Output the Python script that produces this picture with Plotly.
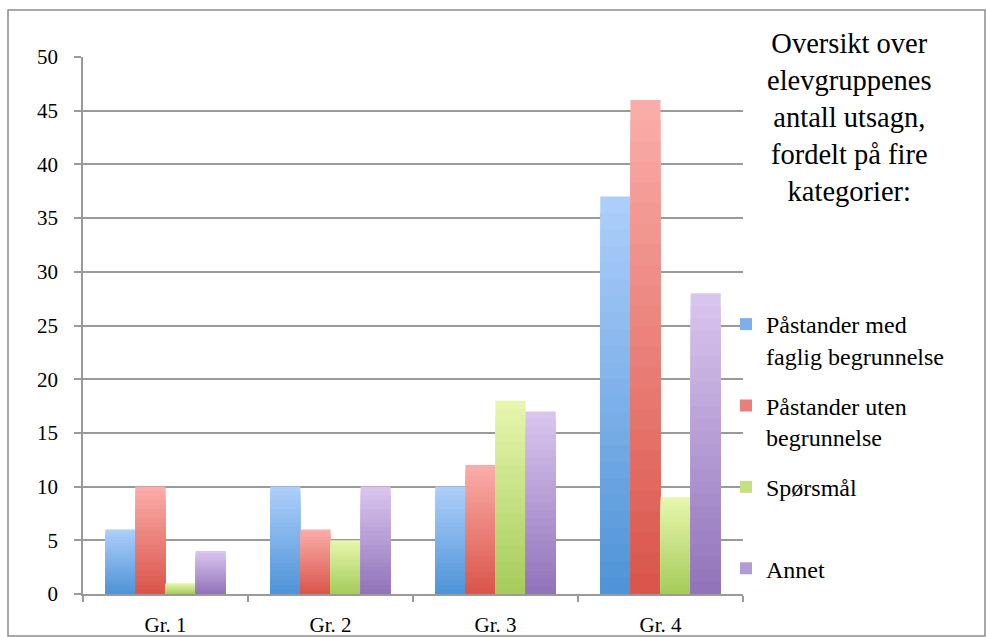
import plotly.graph_objects as go

categories = ["Gr. 1", "Gr. 2", "Gr. 3", "Gr. 4"]
series_names = ["Påstander med<br>faglig begrunnelse", "Påstander uten<br>begrunnelse",
                "Spørsmål<br>&nbsp;", "Annet"]
med_begrunnelse = [6, 10, 10, 37]
uten_begrunnelse = [10, 6, 12, 46]
sporsmal = [1, 5, 18, 9]
annet = [4, 10, 17, 28]
y_ticks = [0, 5, 10, 15, 20, 25, 30, 35, 40, 45, 50]

series_values = [med_begrunnelse, uten_begrunnelse, sporsmal, annet]
# (top light colour, bottom dark colour) for the vertical gradient
gradients = [((172, 206, 250), (80, 148, 215)),
             ((250, 172, 168), (218, 86, 76)),
             ((230, 246, 172), (166, 204, 92)),
             ((216, 197, 238), (146, 116, 186))]

N = 24
fig = go.Figure()
for s, (name, vals) in enumerate(zip(series_names, series_values)):
    top, bot = gradients[s]
    for k in range(N):
        t = k / (N - 1)
        c = tuple(round(top[i] + (bot[i] - top[i]) * t) for i in range(3))
        frac = (N - k) / N
        fig.add_trace(go.Bar(
            x=categories, y=[v * frac for v in vals],
            name=name, legendgroup=f"g{s}", offsetgroup=f"o{s}",
            showlegend=(k == N // 2),
            marker=dict(color=f"rgb{c}", line=dict(width=0)),
            hoverinfo="skip",
        ))

grid = "#9a9a9a"
font = "Liberation Serif"
L, R, T, B = 83, 243, 57, 43
W, H = 986, 637
pw, ph = W - L - R, H - T - B

def px(x):
    return (x - L) / pw

def py(y):
    return (H - B - y) / ph

fig.update_layout(
    width=W, height=H, autosize=False,
    margin=dict(l=L, r=R, t=T, b=B),
    paper_bgcolor="white", plot_bgcolor="white",
    barmode="group", bargap=0.27, bargroupgap=0,
    font=dict(family=font, color="black"),
    legend=dict(x=px(726), xanchor="left", y=py(302), yanchor="top",
                font=dict(size=24, family=font), tracegroupgap=16, valign="top",
                bgcolor="rgba(0,0,0,0)", itemclick=False),
    annotations=[dict(
        text="Oversikt over<br>elevgruppenes<br>antall utsagn,<br>fordelt på fire<br>kategorier:",
        x=px(849), y=py(26), xref="paper", yref="paper",
        xanchor="center", yanchor="top", showarrow=False,
        font=dict(size=28.5, family=font), align="center")],
    shapes=[dict(type="rect", xref="paper", yref="paper",
                 x0=px(8), x1=px(985), y0=py(636), y1=py(10),
                 line=dict(color="#8c8c8c", width=1.5))],
)
fig.update_yaxes(range=[0, 50], tickvals=y_ticks, showgrid=True, gridcolor=grid,
                 gridwidth=1.5, showline=True, linecolor=grid, linewidth=1.5,
                 ticks="outside", ticklen=7, tickcolor=grid, tickwidth=1.5,
                 zeroline=False, tickfont=dict(size=21, family=font),
                 ticklabelstandoff=12, automargin=False)
fig.update_xaxes(showline=True, linecolor=grid, linewidth=1.5, ticks="outside",
                 tickson="boundaries", ticklen=6, tickcolor=grid, tickwidth=1.5,
                 tickfont=dict(size=21, family=font), ticklabelstandoff=11,
                 automargin=False)

fig.write_html("out.html", config={"responsive": False, "displayModeBar": False},
               post_script="document.body.style.margin='0';document.body.style.overflow='hidden';")
